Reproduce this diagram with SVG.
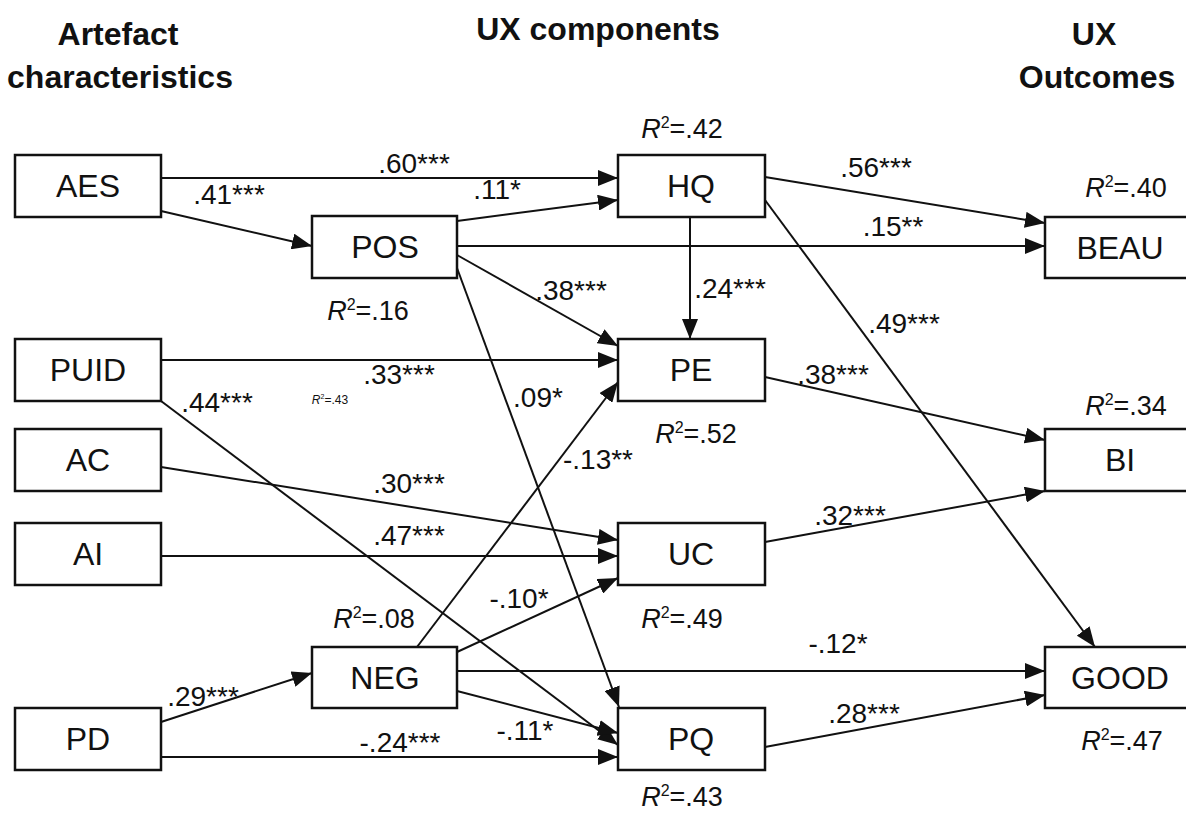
<svg xmlns="http://www.w3.org/2000/svg" width="1186" height="816" viewBox="0 0 1186 816">
<style>
.hdr{font-family:"Liberation Sans",Arial,sans-serif;font-weight:bold;font-size:32px;fill:#111;text-anchor:middle}
.box{fill:#fff;stroke:#111;stroke-width:2.5}
.nt{font-family:"Liberation Sans",Arial,sans-serif;font-size:32px;fill:#111;text-anchor:middle}
.el{font-family:"Liberation Sans",Arial,sans-serif;font-size:28px;fill:#111;text-anchor:middle}
.r2{font-family:"Liberation Sans",Arial,sans-serif;font-size:27px;fill:#111;text-anchor:middle}
.r2s{font-family:"Liberation Sans",Arial,sans-serif;font-size:12px;fill:#111;text-anchor:middle}
.e{stroke:#111;stroke-width:2;fill:none;marker-end:url(#ah)}
</style>
<defs>
<marker id="ah" markerUnits="userSpaceOnUse" markerWidth="22" markerHeight="16" refX="20" refY="8" orient="auto">
<path d="M0,0 L20,8 L0,16 z" fill="#111"/>
</marker>
</defs>
<rect width="1186" height="816" fill="#fff"/>
<g id="headers">
<text class="hdr" x="118" y="45">Artefact</text>
<text class="hdr" x="120" y="88">characteristics</text>
<text class="hdr" x="598" y="40">UX components</text>
<text class="hdr" x="1094" y="45">UX</text>
<text class="hdr" x="1097" y="88">Outcomes</text>
</g>
<g id="connectors">
<line class="e" x1="161" y1="178" x2="618" y2="178"/>
<line class="e" x1="161" y1="211" x2="312" y2="246"/>
<line class="e" x1="457" y1="221" x2="618" y2="200"/>
<line class="e" x1="457" y1="246" x2="1045" y2="246"/>
<line class="e" x1="765" y1="177" x2="1045" y2="223"/>
<line class="e" x1="457" y1="255" x2="618" y2="346"/>
<line class="e" x1="457" y1="268" x2="619" y2="707"/>
<line class="e" x1="690" y1="217" x2="690" y2="339"/>
<line class="e" x1="765" y1="200" x2="1095" y2="647"/>
<line class="e" x1="161" y1="360" x2="618" y2="360"/>
<line class="e" x1="161" y1="401" x2="618" y2="745"/>
<line class="e" x1="765" y1="377" x2="1045" y2="440"/>
<line class="e" x1="161" y1="467" x2="618" y2="540"/>
<line class="e" x1="161" y1="556" x2="618" y2="556"/>
<line class="e" x1="765" y1="542" x2="1045" y2="491"/>
<line class="e" x1="417" y1="647" x2="618" y2="382"/>
<line class="e" x1="457" y1="652" x2="618" y2="578"/>
<line class="e" x1="457" y1="671" x2="1045" y2="671"/>
<line class="e" x1="457" y1="691" x2="618" y2="733"/>
<line class="e" x1="161" y1="722" x2="312" y2="673"/>
<line class="e" x1="161" y1="757" x2="618" y2="757"/>
<line class="e" x1="765" y1="747" x2="1045" y2="695"/>
</g>
<g id="edge-labels">
<text class="el" x="414" y="173">.60***</text>
<text class="el" x="229" y="204">.41***</text>
<text class="el" x="497" y="199">.11*</text>
<text class="el" x="893" y="236">.15**</text>
<text class="el" x="876" y="177">.56***</text>
<text class="el" x="571" y="300">.38***</text>
<text class="el" x="538" y="407">.09*</text>
<text class="el" x="730" y="298">.24***</text>
<text class="el" x="904" y="333">.49***</text>
<text class="el" x="399" y="384">.33***</text>
<text class="el" x="217" y="412">.44***</text>
<text class="el" x="833" y="384">.38***</text>
<text class="el" x="409" y="493">.30***</text>
<text class="el" x="409" y="545">.47***</text>
<text class="el" x="850" y="525">.32***</text>
<text class="el" x="598" y="469">-.13**</text>
<text class="el" x="519" y="608">-.10*</text>
<text class="el" x="838" y="653">-.12*</text>
<text class="el" x="525" y="740">-.11*</text>
<text class="el" x="203" y="706">.29***</text>
<text class="el" x="400" y="752">-.24***</text>
<text class="el" x="864" y="723">.28***</text>
</g>
<g id="r2-labels">
<text class="r2" x="682" y="138"><tspan font-style="italic">R</tspan><tspan font-size="16" dy="-10">2</tspan><tspan dy="10">=.42</tspan></text>
<text class="r2" x="1126" y="197"><tspan font-style="italic">R</tspan><tspan font-size="16" dy="-10">2</tspan><tspan dy="10">=.40</tspan></text>
<text class="r2" x="368" y="320"><tspan font-style="italic">R</tspan><tspan font-size="16" dy="-10">2</tspan><tspan dy="10">=.16</tspan></text>
<text class="r2" x="696" y="443"><tspan font-style="italic">R</tspan><tspan font-size="16" dy="-10">2</tspan><tspan dy="10">=.52</tspan></text>
<text class="r2" x="1126" y="415"><tspan font-style="italic">R</tspan><tspan font-size="16" dy="-10">2</tspan><tspan dy="10">=.34</tspan></text>
<text class="r2" x="374" y="628"><tspan font-style="italic">R</tspan><tspan font-size="16" dy="-10">2</tspan><tspan dy="10">=.08</tspan></text>
<text class="r2" x="682" y="628"><tspan font-style="italic">R</tspan><tspan font-size="16" dy="-10">2</tspan><tspan dy="10">=.49</tspan></text>
<text class="r2" x="1122" y="750"><tspan font-style="italic">R</tspan><tspan font-size="16" dy="-10">2</tspan><tspan dy="10">=.47</tspan></text>
<text class="r2" x="682" y="806"><tspan font-style="italic">R</tspan><tspan font-size="16" dy="-10">2</tspan><tspan dy="10">=.43</tspan></text>
<text class="r2s" x="330" y="404"><tspan font-style="italic">R</tspan><tspan style="font-size:7px" dy="-5">2</tspan><tspan dy="5">=.43</tspan></text>
</g>
<g id="AES"><rect class="box" x="15" y="155" width="146" height="62"/><text class="nt" x="88" y="197">AES</text></g>
<g id="PUID"><rect class="box" x="15" y="339" width="146" height="62"/><text class="nt" x="88" y="381">PUID</text></g>
<g id="AC"><rect class="box" x="15" y="429" width="146" height="62"/><text class="nt" x="88" y="471">AC</text></g>
<g id="AI"><rect class="box" x="15" y="523" width="146" height="62"/><text class="nt" x="88" y="565">AI</text></g>
<g id="PD"><rect class="box" x="15" y="708" width="146" height="62"/><text class="nt" x="88" y="750">PD</text></g>
<g id="POS"><rect class="box" x="312" y="216" width="145" height="62"/><text class="nt" x="385" y="258">POS</text></g>
<g id="NEG"><rect class="box" x="312" y="647" width="145" height="61"/><text class="nt" x="385" y="689">NEG</text></g>
<g id="HQ"><rect class="box" x="618" y="155" width="147" height="62"/><text class="nt" x="691" y="197">HQ</text></g>
<g id="PE"><rect class="box" x="618" y="339" width="147" height="62"/><text class="nt" x="691" y="381">PE</text></g>
<g id="UC"><rect class="box" x="618" y="523" width="147" height="62"/><text class="nt" x="691" y="565">UC</text></g>
<g id="PQ"><rect class="box" x="618" y="708" width="147" height="62"/><text class="nt" x="691" y="750">PQ</text></g>
<g id="BEAU"><rect class="box" x="1045" y="217" width="150" height="61"/><text class="nt" x="1120" y="259">BEAU</text></g>
<g id="BI"><rect class="box" x="1045" y="429" width="150" height="62"/><text class="nt" x="1120" y="471">BI</text></g>
<g id="GOOD"><rect class="box" x="1045" y="647" width="150" height="61"/><text class="nt" x="1120" y="689">GOOD</text></g>
</svg>
